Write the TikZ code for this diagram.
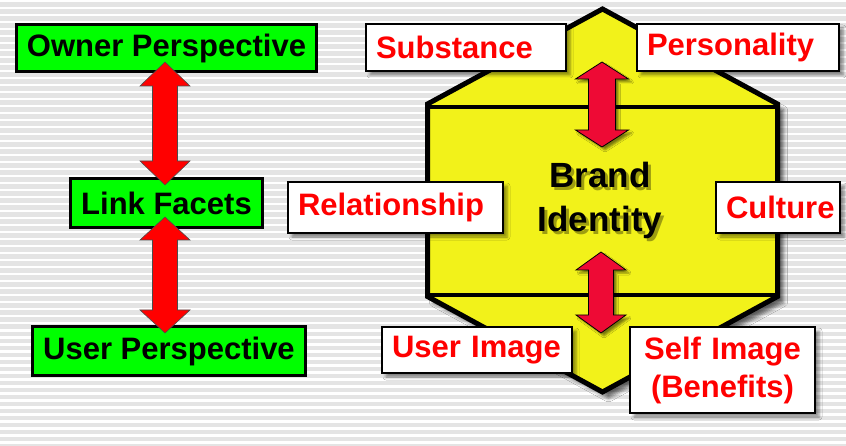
\documentclass[tikz,border=0pt]{standalone}
\usepackage{fontspec}
\setmainfont{Liberation Sans}
\usetikzlibrary{shadows.blur}
\definecolor{grn}{HTML}{00FF00}
\definecolor{yel}{HTML}{F2F21A}
\definecolor{crim}{HTML}{EE0A35}
\definecolor{bgg}{HTML}{E4E4E4}
\newcommand{\dblarrow}[7]{% style, x, top, bottom, headlen, headhalf, shafthalf
 \draw[#1] (#2,#3) -- (#2+#6,#3+#5) -- (#2+#7,#3+#5) -- (#2+#7,#4-#5) -- (#2+#6,#4-#5) -- (#2,#4) -- (#2-#6,#4-#5) -- (#2-#7,#4-#5) -- (#2-#7,#3+#5) -- (#2-#6,#3+#5) -- cycle;}
\begin{document}
\begin{tikzpicture}[x=1pt,y=-1pt,
  bigfont/.style={font=\fontsize{31}{38}\selectfont\bfseries},
  gbox/.style={draw=black, line width=3pt, fill=grn, inner sep=0pt, bigfont},
  wbox/.style={draw=black, line width=2.5pt, fill=white, inner xsep=10pt, inner ysep=0pt, text=red, bigfont,
     blur shadow={shadow xshift=4pt, shadow yshift=-4pt, shadow blur radius=3pt, shadow opacity=45}},
  leftarrow/.style={fill=red, draw=black!70, line width=0.6pt},
  rightarrow/.style={fill=crim, draw=black, line width=0.8pt,
     blur shadow={shadow xshift=3pt, shadow yshift=-3pt, shadow blur radius=2pt, shadow opacity=50}},
  hexa/.style={fill=yel, draw=black, line width=5pt,
     blur shadow={shadow xshift=6pt, shadow yshift=-6pt, shadow blur radius=4pt, shadow opacity=60}},
  brandtxt/.style={font=\fontsize{35}{44}\selectfont\bfseries, anchor=base, inner sep=0pt}
]
\useasboundingbox (0,0) rectangle (846,446);
% background stripes
\fill[bgg] (0,0) rectangle (846,446);
\foreach \i in {0,...,64} \fill[white] (0,\i*7) rectangle (846,\i*7+2.5);

% left column
\node[gbox, minimum width=300pt, minimum height=47pt] (owner) at (166.5,48) {Owner Perspective};
\node[gbox, minimum width=192pt, minimum height=49pt] (link) at (166.5,203) {Link Facets};
\node[gbox, minimum width=273pt, minimum height=49pt] (user) at (169,351) {User Perspective};
\dblarrow{leftarrow}{165}{62}{185}{24}{25}{12.5}
\dblarrow{leftarrow}{165}{217}{333}{23}{25}{12.5}

% hexagon
\filldraw[hexa] (602.5,9) -- (777.5,104) -- (777.5,296.5) -- (602.5,392) -- (427.5,296.5) -- (427.5,104) -- cycle;
\coordinate (hl1) at (427.5,107);
\coordinate (hr1) at (777.5,107);
\coordinate (hl2) at (427.5,295.5);
\coordinate (hr2) at (777.5,295.5);
\draw[black, line width=4pt] (hl1) -- (hr1);
\draw[black, line width=4pt] (hl2) -- (hr2);

% Brand Identity with soft shadow
\node[brandtxt, text=black, opacity=0.35, align=center, anchor=north] (brandsh) at (603,165) {Brand\\Identity};
\node[brandtxt, align=center, anchor=north] (brand) at (600,162) {Brand\\Identity};

% inner arrows
\dblarrow{rightarrow}{602}{62}{147}{17}{26.5}{13.5}
\dblarrow{rightarrow}{601}{252}{333}{18}{25}{12.5}

% white facet boxes
\node[wbox, text width=180pt, align=left, minimum height=47pt] (subst) at (466,47.5) {Substance};
\node[wbox, text width=182pt, align=left, minimum height=47pt] (pers) at (738,47.5) {Personality};
\node[wbox, text width=195pt, align=left, minimum height=51pt] (rel) at (395.5,207.5) {Relationship};
\node[wbox, text width=104pt, align=left, minimum height=51pt] (cult) at (778,207.5) {Culture};
\node[wbox, text width=170pt, align=left, minimum height=46pt] (uimg) at (477,350) {User Image};
\node[wbox, text width=165pt, align=center, minimum height=86pt] (simg) at (722.5,370) {Self Image\\(Benefits)};
\end{tikzpicture}
\end{document}
